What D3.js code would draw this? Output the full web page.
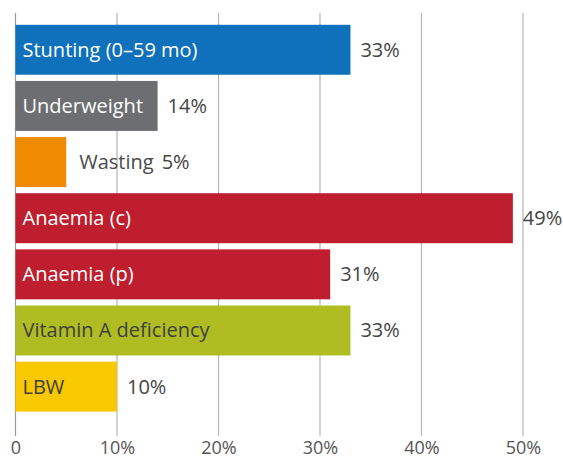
<!DOCTYPE html>
<html><head><meta charset="utf-8">
<script src="https://cdn.jsdelivr.net/npm/d3@7"></script>
<style>
html,body{margin:0;padding:0;background:#fff;}
svg{display:block;font-family:"Open Sans",sans-serif;}
</style></head>
<body><svg id="chart" width="563" height="459"></svg>
<script>
const categories = ["Stunting (0–59 mo)","Underweight","Wasting","Anaemia (c)","Anaemia (p)","Vitamin A deficiency","LBW"];
const values = [33,14,5,49,31,33,10];
const valueLabels = ["33%","14%","5%","49%","31%","33%","10%"];
const barColors = ["#0F71BB","#6D6E71","#F08A00","#BE1E2D","#BE1E2D","#AFBD22","#F8C800"];
const labelInside = [true,true,false,true,true,true,true];
const labelColors = ["#fff","#fff","#4a4a4a","#fff","#fff","#3f3f3f","#3f3f3f"];
const tickValues = [0,10,20,30,40,50];
const tickLabels = ["0","10%","20%","30%","40%","50%"];

const svg = d3.select("#chart");
const x = d3.scaleLinear().domain([0,50]).range([15.5,523]);
const y = d3.scaleBand().domain(categories).range([21.7,414.7]).paddingInner(0.11).paddingOuter(0.055);

// gridlines
svg.append("g").selectAll("line").data(tickValues).join("line")
  .attr("x1",d=>x(d)).attr("x2",d=>x(d)).attr("y1",13).attr("y2",436)
  .attr("stroke",(d,i)=>i===0?"#9a9a9a":"#b5b5b5").attr("stroke-width",1.2);

// tick labels via axis
const axis = d3.axisBottom(x).tickValues(tickValues).tickFormat((d,i)=>tickLabels[i]).tickSize(0).tickPadding(0);
const ag = svg.append("g").attr("transform","translate(0,441)").call(axis);
ag.select(".domain").remove();
ag.selectAll("text").attr("fill","#555").attr("font-size","18px").attr("font-family","Open Sans, sans-serif");

const data = categories.map((c,i)=>({c,v:values[i],lab:valueLabels[i],col:barColors[i],inside:labelInside[i],tc:labelColors[i]}));

svg.append("g").selectAll("rect").data(data).join("rect")
  .attr("x",x(0)).attr("y",d=>y(d.c)).attr("width",d=>x(d.v)-x(0)).attr("height",y.bandwidth())
  .attr("fill",d=>d.col);

const fs = 20;
// category labels
const cl = svg.append("g").selectAll("text").data(data).join("text")
  .attr("x",d=>d.inside? x(0)+7 : x(d.v)+13)
  .attr("y",d=>y(d.c)+y.bandwidth()/2).attr("dy","0.35em")
  .attr("font-size",fs+"px").attr("fill",d=>d.tc)
  .text(d=>d.c);
const widths = [];
cl.each(function(d,i){ widths[i] = this.getComputedTextLength(); });

// value labels
svg.append("g").selectAll("text").data(data).join("text")
  .attr("x",(d,i)=>d.inside? x(d.v)+10 : x(d.v)+13+widths[i]+8)
  .attr("y",d=>y(d.c)+y.bandwidth()/2).attr("dy","0.35em")
  .attr("font-size",fs+"px").attr("fill","#444")
  .text(d=>d.lab);
</script></body></html>
